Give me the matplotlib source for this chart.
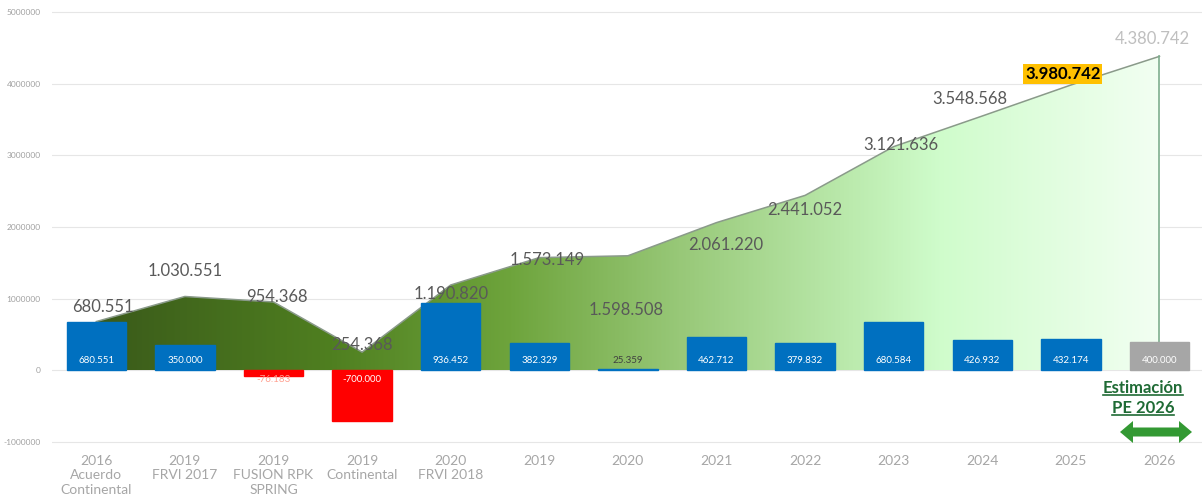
import numpy as np
import matplotlib
matplotlib.use("Agg")
import matplotlib.pyplot as plt
from matplotlib.colors import LinearSegmentedColormap
from matplotlib.patches import Polygon
from matplotlib.lines import Line2D
from matplotlib.transforms import IdentityTransform

plt.rcParams['font.family'] = ['Lato', 'DejaVu Sans']

categories = ["2016\nAcuerdo\nContinental", "2019\nFRVI 2017", "2019\nFUSION RPK\nSPRING",
              "2019\nContinental", "2020\nFRVI 2018", "2019", "2020", "2021", "2022",
              "2023", "2024", "2025", "2026"]
bar_values = [680551, 350000, -76183, -700000, 936452, 382329, 25359, 462712,
              379832, 680584, 426932, 432174, 400000]
totals = [680551, 1030551, 954368, 254368, 1190820, 1573149, 1598508, 2061220,
          2441052, 3121636, 3548568, 3980742, 4380742]


def fmt(v):
    s = f"{abs(v):,}".replace(",", ".")
    return "-" + s if v < 0 else s


# label offsets for the running total (pixels)
total_offsets = [(7, 15), (0, 25), (3, 5), (0, 7), (0, -9), (8, -2), (-2, -54),
                 (9, -22), (0, -15), (7, 2), (-12, 17), (-8, 11), (-7, 17)]

W, H = 1202, 499
fig = plt.figure(figsize=(W / 100, H / 100), dpi=100)
ax = fig.add_axes([52 / W, (H - 449.2) / H, (W - 52) / W, 444.4 / H])
ax.set_xlim(-0.5, 12.48)
ax.set_ylim(-1.1e6, 5.1e6)

x = np.arange(len(categories))

# gradient area for the accumulated total
green_cmap = LinearSegmentedColormap.from_list("acum", [
    (0.0, "#3a5a1a"), (0.22, "#4f7f20"), (0.389, "#6ea43c"), (0.549, "#98c878"),
    (0.718, "#bdecb0"), (0.793, "#cffccb"), (1.0, "#f2fff2")])
verts = [(x[0], 0)] + list(zip(x, totals)) + [(x[-1], 0)]
area = Polygon(verts, closed=True, facecolor="none", edgecolor="none")
ax.add_patch(area)
grad = ax.imshow(np.linspace(0, 1, 512)[None, :], extent=[x[0], x[-1], 0, max(totals)],
                 cmap=green_cmap, aspect="auto", zorder=1, interpolation="bilinear")
grad.set_clip_path(area)
ax.plot(x, totals, color="#8a9a8a", lw=1.1, zorder=2)
ax.plot([x[-1], x[-1]], [0, totals[-1]], color="#7fae8f", lw=1.2, zorder=2)

# bars
colors = ["#0070c0" if v >= 0 else "#ff0000" for v in bar_values]
colors[-1] = "#a6a6a6"
ax.bar(x, bar_values, width=0.67, color=colors, edgecolor=colors, linewidth=1, zorder=3)

for i, v in enumerate(bar_values):
    if v < 0:
        y = -0.13e6
        c = "white" if v < -200000 else "#ffa090"
    else:
        y = 0.14e6
        c = "white" if v > 100000 else "#404040"
    ax.text(x[i], y, fmt(v), ha="center", va="center", fontsize=7, color=c, zorder=4)

for i, t in enumerate(totals):
    dx, dy = total_offsets[i]
    kw = dict(fontsize=12, color="#595959")
    if i == len(totals) - 2:
        kw = dict(fontsize=12, color="black", fontweight="bold",
                  bbox=dict(boxstyle="square,pad=0.1", fc="#ffc000", ec="none"))
    elif i == len(totals) - 1:
        kw = dict(fontsize=12, color="#bfbfbf")
    ax.annotate(fmt(t), (x[i], t), xytext=(dx * 0.72, dy * 0.72), textcoords="offset points",
                ha="center", va="center", zorder=5, **kw)

# axes styling
ax.set_yticks(np.arange(-1e6, 5.01e6, 1e6))
ax.set_yticklabels([f"{int(v)}" for v in np.arange(-1e6, 5.01e6, 1e6)])
ax.tick_params(axis="y", labelsize=6, labelcolor="#a0a0a0", length=0, pad=8)
ax.set_xticks(x)
ax.set_xticklabels(categories, linespacing=1.25)
ax.tick_params(axis="x", labelsize=10, labelcolor="#a6a6a6", length=0, pad=4)
ax.grid(axis="y", color="#e6e6e6", lw=0.8, zorder=0)
ax.set_axisbelow(True)
for s in ax.spines.values():
    s.set_visible(False)

# estimate note with double arrow
note1 = fig.text(1143 / W, 1 - 388 / H, "Estimación", ha="center", va="center",
                 fontsize=12, fontweight="bold", color="#1f6b35")
note2 = fig.text(1143 / W, 1 - 408 / H, "PE 2026", ha="center", va="center",
                 fontsize=12, fontweight="bold", color="#1f6b35")
fig.canvas.draw()
rend = fig.canvas.get_renderer()
for t in (note1, note2):
    bb = t.get_window_extent(rend)
    fig.add_artist(Line2D([bb.x0, bb.x1], [bb.y0 + 1, bb.y0 + 1], color="#1f6b35",
                          lw=1.2, transform=IdentityTransform()))

ay = H - 432
ax0, ax1 = 1120, 1192
hl, hw, sw = 13, 11, 4.5
arrow = [(ax0, ay), (ax0 + hl, ay + hw), (ax0 + hl, ay + sw), (ax1 - hl, ay + sw),
         (ax1 - hl, ay + hw), (ax1, ay), (ax1 - hl, ay - hw), (ax1 - hl, ay - sw),
         (ax0 + hl, ay - sw), (ax0 + hl, ay - hw)]
fig.add_artist(Polygon(arrow, closed=True, fc="#339933", ec="none",
                       transform=IdentityTransform()))

fig.savefig("out.png", dpi=100)
